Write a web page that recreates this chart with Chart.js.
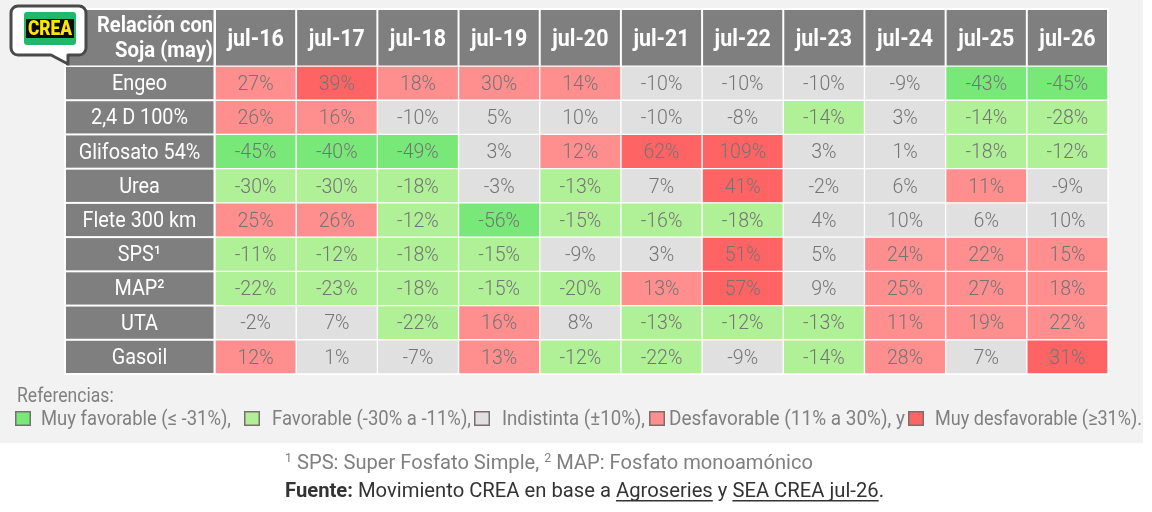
<!DOCTYPE html>
<html><head><meta charset="utf-8">
<script src="https://cdn.jsdelivr.net/npm/chart.js@4.4.1/dist/chart.umd.min.js"></script>
<style>html,body{margin:0;padding:0;background:#fff;overflow:hidden}#wrap{width:1152px;height:512px;position:relative}canvas{display:block}</style>
</head><body><div id="wrap"><canvas id="c" width="1152" height="512"></canvas></div>
<script>
// ---- data ----
const periods = ['jul-16','jul-17','jul-18','jul-19','jul-20','jul-21','jul-22','jul-23','jul-24','jul-25','jul-26'];
const products = ['Engeo','2,4 D 100%','Glifosato 54%','Urea','Flete 300 km','SPS¹','MAP²','UTA','Gasoil'];
const engeo     = [27, 39, 18, 30, 14, -10, -10, -10, -9, -43, -45];
const d24       = [26, 16, -10, 5, 10, -10, -8, -14, 3, -14, -28];
const glifosato = [-45, -40, -49, 3, 12, 62, 109, 3, 1, -18, -12];
const urea      = [-30, -30, -18, -3, -13, 7, 41, -2, 6, 11, -9];
const flete     = [25, 26, -12, -56, -15, -16, -18, 4, 10, 6, 10];
const sps       = [-11, -12, -18, -15, -9, 3, 51, 5, 24, 22, 15];
const map       = [-22, -23, -18, -15, -20, 13, 57, 9, 25, 27, 18];
const uta       = [-2, 7, -22, 16, 8, -13, -12, -13, 11, 19, 22];
const gasoil    = [12, 1, -7, 13, -12, -22, -9, -14, 28, 7, 31];
const values = [engeo, d24, glifosato, urea, flete, sps, map, uta, gasoil];
const legendLabels = ['Muy favorable (≤ -31%),','Favorable (-30% a -11%),','Indistinta (±10%),','Desfavorable (11% a 30%), y','Muy desfavorable (≥31%).'];
const headerTitle = ['Relación con','Soja (may)'];

// ---- styles ----
const COLORS = ['#78e878','#b0f096','#e0e0e0','#ff8f8f','#ff6464'];
function catOf(v){ if(v<=-31) return 0; if(v<=-11) return 1; if(v<=10) return 2; if(v<=30) return 3; return 4; }
const FONT = 'Roboto, "Noto Sans", sans-serif';

function txt(ctx, s, x, y, font, color, align, sx, base){
  ctx.save(); ctx.font = font; ctx.fillStyle = color; ctx.textAlign = align||'center';
  ctx.textBaseline = base||'middle'; ctx.translate(x,y); ctx.scale(sx||1,1); ctx.fillText(s,0,0); ctx.restore();
}
function fitTxt(ctx, s, x, y, font, color, align, w, base){
  ctx.save(); ctx.font = font; const m = ctx.measureText(s).width; ctx.restore();
  txt(ctx, s, x, y, font, color, align, w/m, base);
}
function run(ctx, segs, x, y, targetW){
  let tot = 0; ctx.save();
  segs.forEach(s=>{ ctx.font = s.font; s.w = ctx.measureText(s.t).width; tot += s.w; });
  ctx.restore();
  const sx = targetW/tot; let cx = x;
  segs.forEach(s=>{
    ctx.save(); ctx.font = s.font; ctx.fillStyle = s.color; ctx.textAlign='left'; ctx.textBaseline='alphabetic';
    ctx.translate(cx, y + (s.dy||0)); ctx.scale(sx,1); ctx.fillText(s.t,0,0);
    if(s.u){ ctx.fillRect(0, 3, s.w, 1.5); }
    ctx.restore(); cx += s.w*sx;
  });
}

const tablePlugin = {
  id:'table',
  beforeDraw(chart){
    const ctx = chart.ctx, xs = chart.scales.x, ys = chart.scales.y;
    ctx.save();
    ctx.fillStyle = '#ffffff'; ctx.fillRect(0,0,1152,512);
    ctx.fillStyle = '#f2f2f2'; ctx.fillRect(0,0,1143,443);
    ctx.fillStyle = '#ffffff'; ctx.fillRect(64,8,1045,367);
    ctx.fillStyle = '#7f7f7f';
    const rh = (ys.getPixelForValue(1)-ys.getPixelForValue(0))/2;
    periods.forEach((p,j)=>{
      const x0 = xs.getPixelForValue(j)+1, x1 = xs.getPixelForValue(j+1)-1;
      ctx.fillRect(x0,10,x1-x0,55.5);
    });
    ctx.fillRect(66,10,147.5,55.5);
    products.forEach((p,i)=>{
      const c = ys.getPixelForValue(i);
      ctx.fillRect(66,c-rh+1,147.5,2*rh-2);
    });
    ctx.restore();
  },
  afterDatasetsDraw(chart){
    const ctx = chart.ctx, xs = chart.scales.x, ys = chart.scales.y;
    // values
    values.forEach((row,i)=>{
      const cy = ys.getPixelForValue(i)+1.5;
      row.forEach((v,j)=>{
        txt(ctx, v+'%', xs.getPixelForValue(j+0.5), cy, '300 21px '+FONT, '#747474', 'center', 0.93);
      });
      txt(ctx, products[i], 139.5, cy, '400 22px '+FONT, '#ffffff', 'center', 0.9);
    });
    // header
    periods.forEach((p,j)=>{
      txt(ctx, p, xs.getPixelForValue(j+0.5), 40, '700 23px '+FONT, '#ffffff', 'center', 0.93);
    });
    fitTxt(ctx, headerTitle[0], 213, 26, '700 22px '+FONT, '#ffffff', 'right', 116);
    fitTxt(ctx, headerTitle[1], 213, 51, '700 22px '+FONT, '#ffffff', 'right', 98);

    // logo
    ctx.save();
    const r=7;
    ctx.beginPath();
    ctx.moveTo(11+r,6); ctx.lineTo(86-r,6); ctx.arcTo(86,6,86,6+r,r);
    ctx.lineTo(86,55-r); ctx.arcTo(86,55,86-r,55,r);
    ctx.lineTo(68,55); ctx.lineTo(68,64); ctx.lineTo(51,55);
    ctx.lineTo(11+r,55); ctx.arcTo(11,55,11,55-r,r);
    ctx.lineTo(11,6+r); ctx.arcTo(11,6,11+r,6,r); ctx.closePath();
    ctx.fillStyle='#ffffff'; ctx.fill();
    ctx.lineWidth=3; ctx.strokeStyle='#4a4a4a'; ctx.lineJoin='round'; ctx.stroke();
    ctx.beginPath(); ctx.roundRect(24,12,52,33,3); ctx.fillStyle='#22b86c'; ctx.fill();
    ctx.fillStyle='#0b0b0b'; ctx.fillRect(26,19,48,19);
    ctx.restore();
    ctx.save(); ctx.font='900 21px '+FONT; const mw = ctx.measureText('CREA').width; ctx.restore();
    ctx.save(); ctx.translate(50,29.5); ctx.scale(44/mw,1);
    ctx.font='900 21px '+FONT; ctx.textAlign='center'; ctx.textBaseline='middle';
    ctx.lineWidth=2; ctx.strokeStyle='#000'; ctx.strokeText('CREA',0,0);
    ctx.fillStyle='#ffe600'; ctx.fillText('CREA',0,0); ctx.restore();

    // legend
    txt(ctx, 'Referencias:', 17, 397, '400 20px '+FONT, '#808080', 'left', 0.88);
    const sqX = [15, 244, 474, 649, 908];
    const tX  = [41, 272, 502, 669, 935];
    const tW  = [190, 199, 143, 236, 207];
    legendLabels.forEach((l,k)=>{
      ctx.save(); ctx.fillStyle = COLORS[k]; ctx.fillRect(sqX[k],411,16,15);
      ctx.strokeStyle='#7a6e6e'; ctx.lineWidth=1.5; ctx.strokeRect(sqX[k]+0.75,411.75,14.5,13.5); ctx.restore();
      fitTxt(ctx, l, tX[k], 420, '400 20.5px '+FONT, '#808080', 'left', tW[k]);
    });

    // footnotes
    const g='#7f7f7f', d='#333333';
    run(ctx, [
      {t:'1', font:'400 13px '+FONT, color:g, dy:-7},
      {t:' SPS: Super Fosfato Simple, ', font:'400 21px '+FONT, color:g},
      {t:'2', font:'400 13px '+FONT, color:g, dy:-7},
      {t:' MAP: Fosfato monoamónico', font:'400 21px '+FONT, color:g}
    ], 285, 469, 528);
    run(ctx, [
      {t:'Fuente:', font:'700 21px '+FONT, color:d},
      {t:' Movimiento CREA en base a ', font:'400 21px '+FONT, color:d},
      {t:'Agroseries', font:'400 21px '+FONT, color:d, u:true},
      {t:' y ', font:'400 21px '+FONT, color:d},
      {t:'SEA CREA jul-26', font:'400 21px '+FONT, color:d, u:true},
      {t:'.', font:'400 21px '+FONT, color:d}
    ], 285, 497, 599);
  }
};

const datasets = periods.map((p,j)=>({
  label: p,
  data: values.map(row => [j, j+1]),
  backgroundColor: values.map(row => COLORS[catOf(row[j])]),
  borderColor: '#ffffff', borderWidth: 1, borderSkipped: false,
  grouped: false, barPercentage: 1, categoryPercentage: 1
}));

new Chart(document.getElementById('c'), {
  type: 'bar',
  data: { labels: products, datasets },
  options: {
    indexAxis: 'y', responsive: false, animation: false, devicePixelRatio: 1,
    layout: { padding: { left: 215, right: 44, top: 66, bottom: 138 } },
    plugins: { legend: { display: false }, tooltip: { enabled: false } },
    scales: {
      x: { type: 'linear', min: 0, max: 11, display: false },
      y: { type: 'category', display: false, offset: true }
    }
  },
  plugins: [tablePlugin]
});
</script></body></html>
